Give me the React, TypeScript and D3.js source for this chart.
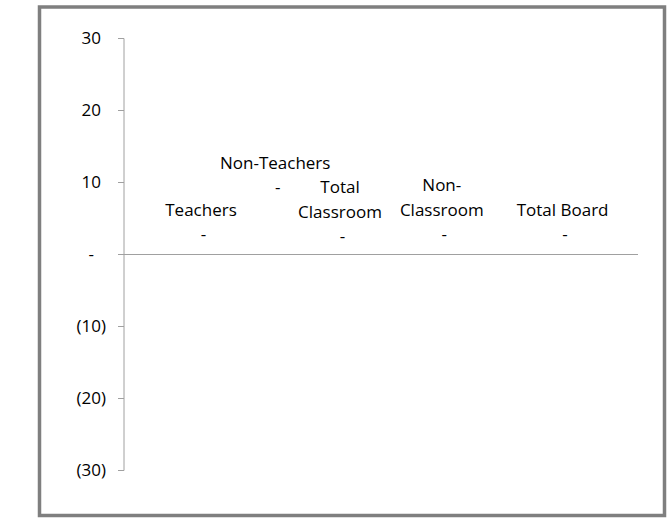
import React from "react";
import * as d3 from "d3";

const categories = ["Teachers", "Non-Teachers", "Total Classroom", "Non-Classroom", "Total Board"];
const values = [0, 0, 0, 0, 0];
const labelLines = [["Teachers"], ["Non-Teachers"], ["Total", "Classroom"], ["Non-", "Classroom"], ["Total Board"]];
const yTicks = [-30, -20, -10, 0, 10, 20, 30];
// manual data-label placement (offsets from the point), as in the source
const labelDx = [25.6, -3, -41, -42, -24];
const labelDy = [-20, -67, -18, -20, -20];

const W = 669;
const H = 518;
const FONT = "'Open Sans', sans-serif";
const FS = 17;
const LINE = 24.5;

function fmt(v: number): string {
  if (v === 0) return "-";
  if (v < 0) return `(${Math.abs(v)})`;
  return `${v}`;
}

export default function App() {
  const x = d3.scalePoint<string>().domain(categories).range([124, 638]).padding(0.5);
  const y = d3.scaleLinear().domain([-30, 30]).range([470.5, 38.5]);
  const axisColor = "#a0a0a0";

  return (
    <div style={{ position: "absolute", left: 0, top: 0 }}>
      <svg width={W} height={H} style={{ display: "block", background: "#fff" }}>
        <rect x={39.5} y={7} width={625} height={508.5} fill="#fff" stroke="#7f7f7f" strokeWidth={3.5} />
        {/* y axis */}
        <line x1={124} x2={124} y1={y(30)} y2={y(-30)} stroke={axisColor} strokeWidth={1} />
        {yTicks.map((t) => (
          <g key={t}>
            <line x1={118} x2={124} y1={y(t)} y2={y(t)} stroke={axisColor} strokeWidth={1} />
            <text
              x={t < 0 ? 106 : t === 0 ? 94 : 101}
              y={y(t)}
              dy="0.35em"
              textAnchor="end"
              fontFamily={FONT}
              fontSize={FS}
              fill="#000"
            >
              {fmt(t)}
            </text>
          </g>
        ))}
        {/* zero line (category axis) */}
        <line x1={124} x2={638} y1={y(0)} y2={y(0)} stroke={axisColor} strokeWidth={1.2} />
        {/* data labels */}
        {categories.map((c, i) => {
          const cx = (x(c) as number) + labelDx[i];
          const baseY = y(values[i]) + labelDy[i];
          const lines = labelLines[i];
          return (
            <g key={c} fontFamily={FONT} fontSize={FS} fill="#000" textAnchor="middle">
              {lines.map((l, j) => (
                <text key={j} x={cx} y={baseY - (lines.length - j) * LINE} dy="0.35em">
                  {l}
                </text>
              ))}
              <text x={cx + 2.5} y={baseY} dy="0.35em">
                {fmt(values[i])}
              </text>
            </g>
          );
        })}
      </svg>
    </div>
  );
}
